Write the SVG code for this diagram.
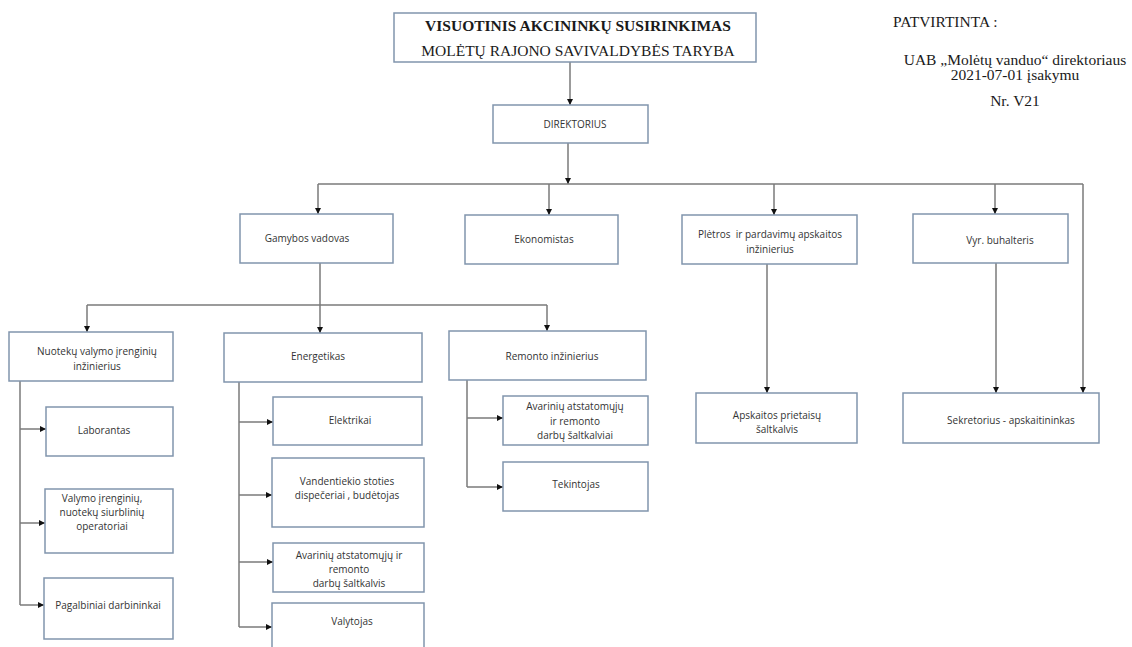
<svg xmlns="http://www.w3.org/2000/svg" width="1132" height="647" viewBox="0 0 1132 647">
<defs>
<marker id="ah" viewBox="0 0 10 10" refX="10" refY="5" markerWidth="6" markerHeight="6" markerUnits="userSpaceOnUse" orient="auto">
<path d="M0,0 L10,5 L0,10 z" fill="#111"/>
</marker>
<style>
.box{fill:#fff;stroke:#8195ad;stroke-width:1.5}
.t{font-family:"Open Sans","Liberation Sans",sans-serif;font-size:10px;fill:#333;text-anchor:middle}
.s{font-family:"Liberation Serif","Times New Roman",serif;font-size:15.5px;fill:#1a1a1a}
.c{fill:none;stroke:#7a7a7a;stroke-width:1.5}
.a{marker-end:url(#ah)}
</style>
</defs>
<rect width="1132" height="647" fill="#fff"/>

<g id="approval">
<text class="s" x="893" y="27">PATVIRTINTA :</text>
<text class="s" x="1015" y="65" text-anchor="middle">UAB „Molėtų vanduo“ direktoriaus</text>
<text class="s" x="1015" y="80" text-anchor="middle">2021-07-01 įsakymu</text>
<text class="s" x="1015" y="106" text-anchor="middle">Nr. V21</text>
</g>

<g id="connectors">
<path class="c a" d="M570 62 V105"/>
<path class="c a" d="M568 143 V184"/>
<path class="c" d="M318 184 H1083"/>
<path class="c a" d="M318 184 V214"/>
<path class="c a" d="M549 184 V215"/>
<path class="c a" d="M774 184 V215"/>
<path class="c a" d="M995 184 V214"/>
<path class="c a" d="M1083 184 V393"/>
<path class="c a" d="M320 263 V333"/>
<path class="c" d="M87 305 H547"/>
<path class="c a" d="M87 305 V332"/>
<path class="c a" d="M547 305 V331"/>
<path class="c a" d="M767 264 V393"/>
<path class="c a" d="M996 263 V393"/>
<path class="c" d="M20 381 V605"/>
<path class="c a" d="M20 429 H46"/>
<path class="c a" d="M20 523 H45"/>
<path class="c a" d="M20 605 H44"/>
<path class="c" d="M239 382 V627"/>
<path class="c a" d="M239 422 H273"/>
<path class="c a" d="M239 495 H272"/>
<path class="c a" d="M239 562 H273"/>
<path class="c a" d="M239 627 H272"/>
<path class="c" d="M467 380 V487"/>
<path class="c a" d="M467 418 H503"/>
<path class="c a" d="M467 487 H503"/>
</g>

<g id="n-top">
<rect class="box" x="394" y="13" width="362" height="49"/>
<text class="s" x="578" y="31" text-anchor="middle" font-weight="bold">VISUOTINIS AKCININKŲ SUSIRINKIMAS</text>
<text class="s" x="578" y="56" text-anchor="middle">MOLĖTŲ RAJONO SAVIVALDYBĖS TARYBA</text>
</g>
<g id="n-direktorius">
<rect class="box" x="493" y="105" width="155" height="38"/>
<text class="t" x="575" y="128">DIREKTORIUS</text>
</g>
<g id="n-gamybos">
<rect class="box" x="240" y="214" width="153" height="49"/>
<text class="t" x="307" y="242">Gamybos vadovas</text>
</g>
<g id="n-ekonomistas">
<rect class="box" x="465" y="215" width="153" height="49"/>
<text class="t" x="544" y="243">Ekonomistas</text>
</g>
<g id="n-pletros">
<rect class="box" x="682" y="215" width="175" height="49"/>
<text class="t" x="770" y="238" xml:space="preserve">Plėtros  ir pardavimų apskaitos</text>
<text class="t" x="770" y="253">inžinierius</text>
</g>
<g id="n-vyr">
<rect class="box" x="913" y="214" width="155" height="49"/>
<text class="t" x="1000" y="244">Vyr. buhalteris</text>
</g>
<g id="n-nuoteku">
<rect class="box" x="9" y="332" width="164" height="49"/>
<text class="t" x="97" y="355">Nuotekų valymo įrenginių</text>
<text class="t" x="97" y="370">inžinierius</text>
</g>
<g id="n-energetikas">
<rect class="box" x="224" y="333" width="198" height="49"/>
<text class="t" x="318" y="360">Energetikas</text>
</g>
<g id="n-remonto">
<rect class="box" x="449" y="331" width="197" height="49"/>
<text class="t" x="552" y="360">Remonto inžinierius</text>
</g>
<g id="n-laborantas">
<rect class="box" x="46" y="407" width="127" height="49"/>
<text class="t" x="104" y="434">Laborantas</text>
</g>
<g id="n-valymo">
<rect class="box" x="45" y="489" width="128" height="64"/>
<text class="t" x="102" y="502">Valymo įrenginių,</text>
<text class="t" x="102" y="516">nuotekų siurblinių</text>
<text class="t" x="102" y="530">operatoriai</text>
</g>
<g id="n-pagalbiniai">
<rect class="box" x="44" y="578" width="129" height="61"/>
<text class="t" x="108" y="609">Pagalbiniai darbininkai</text>
</g>
<g id="n-elektrikai">
<rect class="box" x="273" y="397" width="149" height="48"/>
<text class="t" x="350" y="424">Elektrikai</text>
</g>
<g id="n-vandentiekio">
<rect class="box" x="272" y="458" width="152" height="69"/>
<text class="t" x="347" y="485">Vandentiekio stoties</text>
<text class="t" x="347" y="499">dispečeriai , budėtojas</text>
</g>
<g id="n-avariniu-e">
<rect class="box" x="273" y="543" width="151" height="49"/>
<text class="t" x="349" y="559">Avarinių atstatomųjų ir</text>
<text class="t" x="349" y="573">remonto</text>
<text class="t" x="349" y="587">darbų šaltkalvis</text>
</g>
<g id="n-valytojas">
<rect class="box" x="272" y="603" width="152" height="55"/>
<text class="t" x="352" y="625">Valytojas</text>
</g>
<g id="n-avariniu-r">
<rect class="box" x="503" y="396" width="145" height="49"/>
<text class="t" x="575" y="410">Avarinių atstatomųjų</text>
<text class="t" x="575" y="425">ir remonto</text>
<text class="t" x="575" y="439">darbų šaltkalviai</text>
</g>
<g id="n-tekintojas">
<rect class="box" x="503" y="462" width="145" height="49"/>
<text class="t" x="576" y="488">Tekintojas</text>
</g>
<g id="n-apskaitos">
<rect class="box" x="696" y="393" width="161" height="50"/>
<text class="t" x="777" y="419">Apskaitos prietaisų</text>
<text class="t" x="777" y="433">šaltkalvis</text>
</g>
<g id="n-sekretorius">
<rect class="box" x="903" y="393" width="196" height="50"/>
<text class="t" x="1011" y="424">Sekretorius - apskaitininkas</text>
</g>
</svg>
